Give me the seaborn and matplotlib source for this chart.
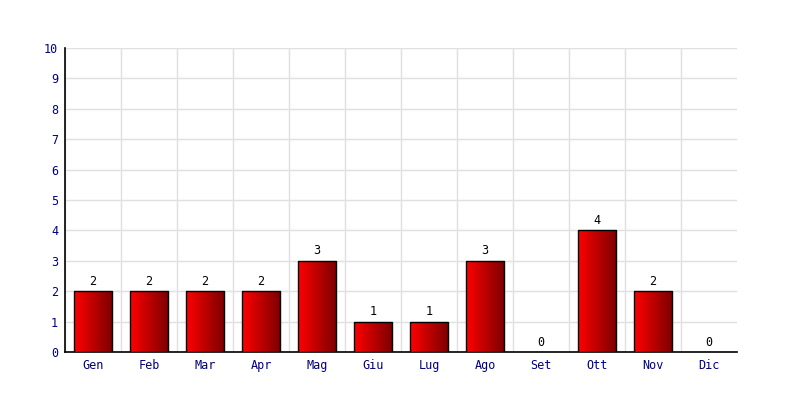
import numpy as np
import pandas as pd
import matplotlib
matplotlib.use("Agg")
import matplotlib.pyplot as plt
import seaborn as sns
from matplotlib.colors import LinearSegmentedColormap

months = ["Gen", "Feb", "Mar", "Apr", "Mag", "Giu", "Lug", "Ago", "Set", "Ott", "Nov", "Dic"]
values = [2, 2, 2, 2, 3, 1, 1, 3, 0, 4, 2, 0]
y_ticks = list(range(0, 11))

df = pd.DataFrame({"mese": months, "valore": values})

sns.set_style("white")
plt.rcParams["font.family"] = ["DejaVu Sans Mono"]

fig = plt.figure(figsize=(8, 4), dpi=100)
ax = fig.add_axes([65 / 800, 48 / 400, 672 / 800, 304 / 400])

sns.barplot(data=df, x="mese", y="valore", color="#cc0000", width=0.68,
            edgecolor="black", linewidth=1, ax=ax, zorder=3)

# gradient fill inside each bar (bright red -> dark red)
cmap = LinearSegmentedColormap.from_list("rosso", ["#ff0000", "#7a0000"])
grad = np.linspace(0, 1, 256).reshape(1, -1)
for p in ax.patches:
    h = p.get_height()
    if h <= 0:
        p.set_visible(False)
        continue
    x0 = p.get_x()
    w = p.get_width()
    im = ax.imshow(grad, cmap=cmap, aspect="auto", extent=[x0, x0 + w, 0, h],
                   zorder=3.5, interpolation="bilinear")
    im.set_clip_path(p)
    p.set_facecolor("none")
    p.set_zorder(4)

for i, v in enumerate(values):
    ax.annotate(str(v), (i, v), xytext=(0, 2.5), textcoords="offset points",
                ha="center", va="bottom", fontsize=8.5, color="black", zorder=5)

ax.set_xlim(-0.5, len(months) - 0.5)
ax.set_ylim(0, 10)
ax.set_yticks(y_ticks)
ax.set_xticks(np.arange(len(months)) - 0.5, minor=True)
ax.grid(which="minor", axis="x", color="#e0e0e0", linewidth=1, zorder=0)
ax.grid(which="major", axis="y", color="#e0e0e0", linewidth=1, zorder=0)
ax.set_axisbelow(True)

ax.tick_params(axis="x", which="major", length=0, colors="#000080", labelsize=8.5, pad=5)
ax.tick_params(axis="x", which="minor", length=0)
ax.tick_params(axis="y", length=2, colors="#000080", labelsize=8.5, pad=3)
for lab in ax.get_yticklabels():
    lab.set_color("#000080")
for lab in ax.get_xticklabels():
    lab.set_color("#000080")

ax.set_xlabel("")
ax.set_ylabel("")
for s in ["top", "right"]:
    ax.spines[s].set_visible(False)
for s in ["left", "bottom"]:
    ax.spines[s].set_color("black")
    ax.spines[s].set_linewidth(1.2)

fig.savefig("out.png", dpi=100)
